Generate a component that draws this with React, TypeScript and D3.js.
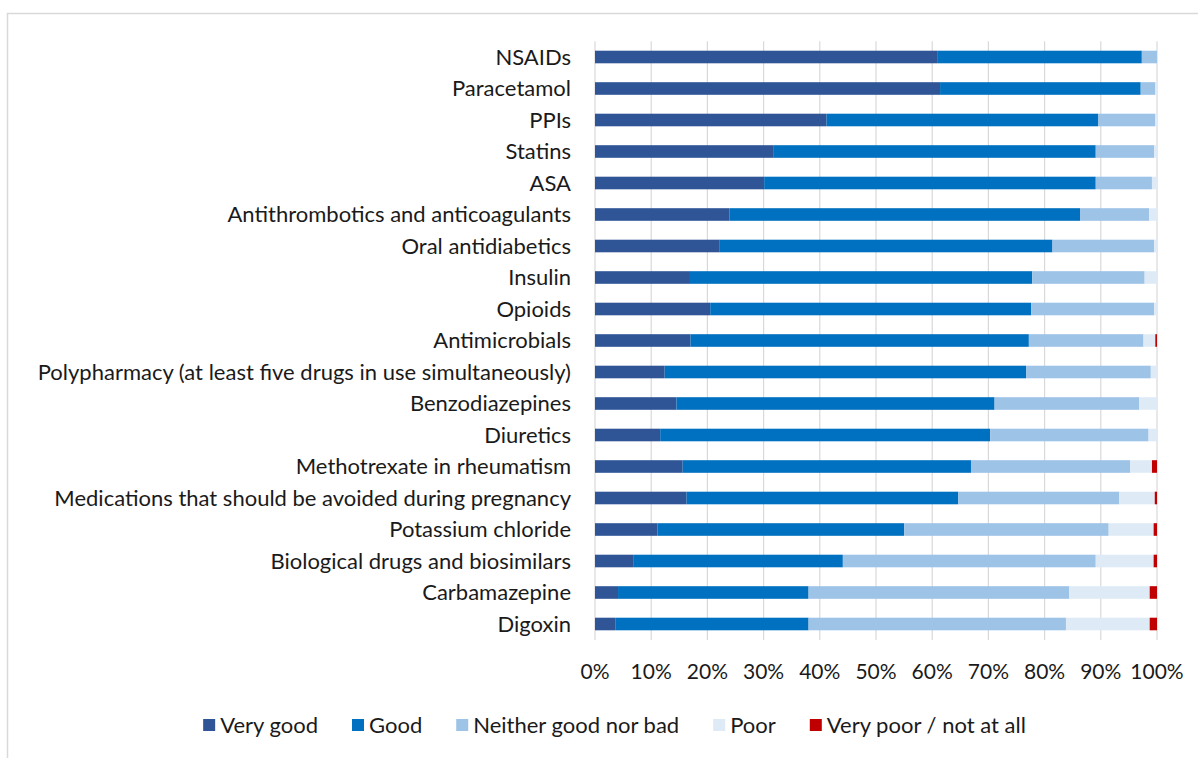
import React, { useEffect, useRef } from "react";
import * as d3 from "d3";

// Medication groups, top to bottom
const categories: string[] = [
  "NSAIDs",
  "Paracetamol",
  "PPIs",
  "Statins",
  "ASA",
  "Antithrombotics and anticoagulants",
  "Oral antidiabetics",
  "Insulin",
  "Opioids",
  "Antimicrobials",
  "Polypharmacy (at least five drugs in use simultaneously)",
  "Benzodiazepines",
  "Diuretics",
  "Methotrexate in rheumatism",
  "Medications that should be avoided during pregnancy",
  "Potassium chloride",
  "Biological drugs and biosimilars",
  "Carbamazepine",
  "Digoxin",
];

// Share of answers (%) per medication group
const veryGood: number[] = [61.0, 61.4, 41.2, 31.7, 30.1, 23.9, 22.2, 16.9, 20.5, 17.0, 12.4, 14.5, 11.6, 15.6, 16.3, 11.1, 6.9, 4.1, 3.6];
const good: number[] = [36.3, 35.7, 48.3, 57.4, 59.0, 62.4, 59.2, 60.9, 57.1, 60.2, 64.3, 56.6, 58.7, 51.3, 48.3, 43.9, 37.2, 33.9, 34.4];
const neither: number[] = [2.7, 2.6, 10.2, 10.4, 10.0, 12.3, 18.1, 20.0, 21.9, 20.4, 22.2, 25.7, 28.2, 28.3, 28.7, 36.4, 45.0, 46.4, 45.8];
const poor: number[] = [0, 0.3, 0.3, 0.5, 0.9, 1.4, 0.5, 2.2, 0.5, 2.1, 1.1, 3.2, 1.5, 3.9, 6.3, 8.0, 10.3, 14.3, 14.9];
const veryPoor: number[] = [0, 0, 0, 0, 0, 0, 0, 0, 0, 0.3, 0, 0, 0, 0.9, 0.4, 0.6, 0.6, 1.3, 1.3];

const seriesNames: string[] = ["Very good", "Good", "Neither good nor bad", "Poor", "Very poor / not at all"];
const seriesColors: string[] = ["#2F5597", "#0070C0", "#9DC3E6", "#DEEBF7", "#C00000"];
const ticks: number[] = [0, 10, 20, 30, 40, 50, 60, 70, 80, 90, 100];

const W = 1198;
const H = 758;
const FONT = "Lato, 'Open Sans', sans-serif";
const FS = 22;

export default function App() {
  const ref = useRef<SVGSVGElement | null>(null);

  useEffect(() => {
    document.body.style.margin = "0";
    const svg = d3.select(ref.current);
    svg.selectAll("*").remove();

    const rows = categories.map((c, i) => ({
      category: c,
      "Very good": veryGood[i],
      Good: good[i],
      "Neither good nor bad": neither[i],
      Poor: poor[i],
      "Very poor / not at all": veryPoor[i],
    }));

    const x = d3.scaleLinear().domain([0, 100]).range([595, 1157]);
    const y = d3
      .scaleBand<string>()
      .domain(categories)
      .range([41.25, 639.75])
      .paddingInner(0.6)
      .paddingOuter(0.3);

    // frame
    svg.append("rect").attr("width", W).attr("height", H).attr("fill", "#fff");
    svg
      .append("path")
      .attr("d", `M7.5,${H} V13.5 H${W}`)
      .attr("fill", "none")
      .attr("stroke", "#d9d9d9")
      .attr("stroke-width", 1.5);

    // vertical gridlines
    svg
      .append("g")
      .selectAll("line")
      .data(ticks)
      .join("line")
      .attr("x1", (d) => x(d))
      .attr("x2", (d) => x(d))
      .attr("y1", 41.25)
      .attr("y2", 640)
      .attr("stroke", "#d9d9d9")
      .attr("stroke-width", 1.2);

    // stacked bars
    const stack = d3.stack<any>().keys(seriesNames);
    const layers = stack(rows);
    svg
      .append("g")
      .selectAll("g")
      .data(layers)
      .join("g")
      .attr("fill", (_, i) => seriesColors[i])
      .selectAll("rect")
      .data((d) => d)
      .join("rect")
      .attr("x", (d) => x(d[0]))
      .attr("width", (d) => Math.max(0, x(d[1]) - x(d[0])))
      .attr("y", (d) => y(d.data.category) as number)
      .attr("height", y.bandwidth());

    // category labels
    svg
      .append("g")
      .selectAll("text")
      .data(categories)
      .join("text")
      .attr("x", 571)
      .attr("y", (d) => (y(d) as number) + y.bandwidth() / 2)
      .attr("dy", "0.36em")
      .attr("text-anchor", "end")
      .attr("font-family", FONT)
      .attr("font-size", FS)
      .attr("fill", "#1a1a1a")
      .text((d) => d);

    // tick labels
    svg
      .append("g")
      .selectAll("text")
      .data(ticks)
      .join("text")
      .attr("x", (d) => x(d))
      .attr("y", 679)
      .attr("text-anchor", "middle")
      .attr("font-family", FONT)
      .attr("font-size", 21)
      .attr("fill", "#1a1a1a")
      .text((d) => `${d}%`);

    // legend, centred under the chart
    const legend = svg.append("g");
    const items = legend
      .selectAll("g")
      .data(seriesNames)
      .join("g");
    items
      .append("rect")
      .attr("width", 12)
      .attr("height", 12)
      .attr("y", 719)
      .attr("fill", (_, i) => seriesColors[i]);
    const labels = items
      .append("text")
      .attr("x", 17)
      .attr("y", 725)
      .attr("dy", "0.36em")
      .attr("font-family", FONT)
      .attr("font-size", FS)
      .attr("fill", "#1a1a1a")
      .text((d) => d);
    const widths: number[] = [];
    labels.each(function () {
      widths.push((this as SVGTextElement).getComputedTextLength());
    });
    const gap = 34;
    const itemW = widths.map((w) => 17 + w);
    const total = d3.sum(itemW) + gap * (itemW.length - 1);
    let cx = 614.5 - total / 2;
    items.attr("transform", (_, i) => {
      const t = `translate(${cx},0)`;
      cx += itemW[i] + gap;
      return t;
    });
  }, []);

  return <svg ref={ref} width={W} height={H} style={{ display: "block" }} />;
}
